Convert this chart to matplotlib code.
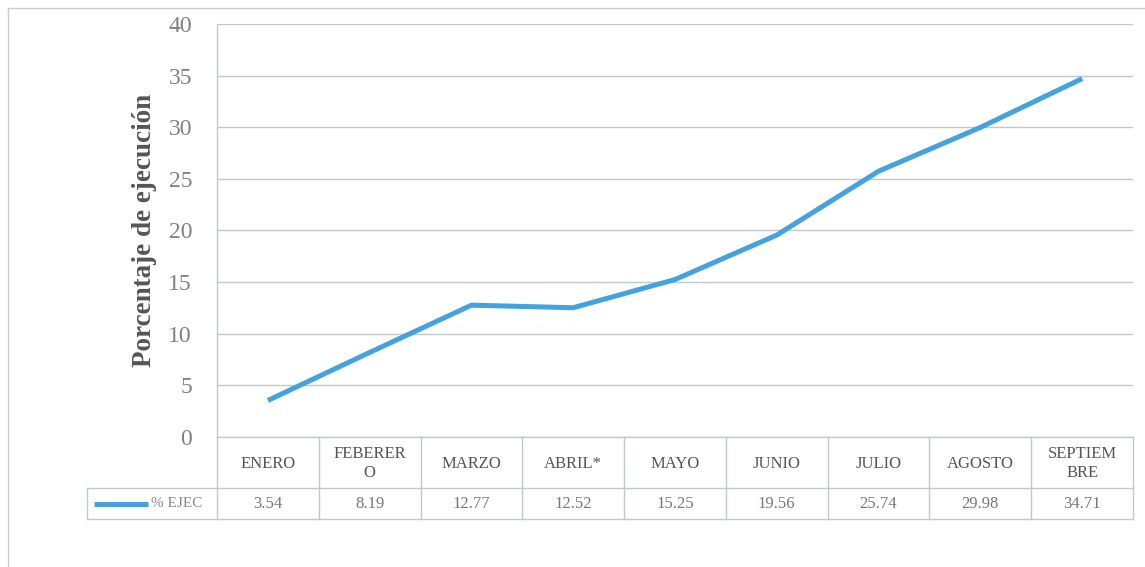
import matplotlib
matplotlib.use("Agg")
import matplotlib.pyplot as plt
from matplotlib.lines import Line2D
from matplotlib.transforms import blended_transform_factory

months = ["ENERO", "FEBERER\nO", "MARZO", "ABRIL*", "MAYO", "JUNIO", "JULIO", "AGOSTO", "SEPTIEM\nBRE"]
values = [3.54, 8.19, 12.77, 12.52, 15.25, 19.56, 25.74, 29.98, 34.71]
value_labels = ["3.54", "8.19", "12.77", "12.52", "15.25", "19.56", "25.74", "29.98", "34.71"]
series_name = "% EJEC"
y_ticks = [0, 5, 10, 15, 20, 25, 30, 35, 40]

W, H = 1145, 567
fig = plt.figure(figsize=(W / 100, H / 100), dpi=100)
plt.rcParams['font.family'] = ['Liberation Serif', 'DejaVu Serif']

grid_c = "#bfcaca"
line_c = "#45a2e0"

x0p, x1p, ytp, ybp = 217, 1133, 24, 437
ax = fig.add_axes([x0p / W, 1 - ybp / H, (x1p - x0p) / W, (ybp - ytp) / H])
n = len(months)
xs = list(range(n))
ax.set_xlim(-0.5, n - 0.5)
ax.set_ylim(0, 40)
ax.plot(xs, values, color=line_c, lw=3.6, solid_capstyle='butt', zorder=3)
ax.set_yticks(y_ticks)
ax.set_yticklabels([str(t) for t in y_ticks], fontsize=17, color="#808080")
ax.tick_params(axis='y', length=0, pad=18)
ax.set_xticks([])
for t in y_ticks:
    ax.axhline(t, color=grid_c, lw=1.0, zorder=1)
for s in ["top", "right", "bottom"]:
    ax.spines[s].set_visible(False)
ax.spines["left"].set_color(grid_c)
ax.spines["left"].set_linewidth(1.0)
ax.set_ylabel("Porcentaje de ejecución", fontsize=19.5, fontweight='bold', color="#555555", labelpad=8)

# table drawn below the axes
ph = ybp - ytp
colw = (x1p - x0p) / n
def xd(px):
    return -0.5 + (px - x0p) / colw
def yf(py):
    return (ybp - py) / ph
tr = blended_transform_factory(ax.transData, ax.transAxes)
row1_bot, row2_bot = 488, 519
leg_left = 87
kw = dict(transform=tr, color=grid_c, lw=1.0, clip_on=False)
ax.add_line(Line2D([xd(x0p), xd(x1p)], [yf(ybp), yf(ybp)], **kw))
ax.add_line(Line2D([xd(leg_left), xd(x1p)], [yf(row1_bot), yf(row1_bot)], **kw))
ax.add_line(Line2D([xd(leg_left), xd(x1p)], [yf(row2_bot), yf(row2_bot)], **kw))
for i in range(n + 1):
    ax.add_line(Line2D([i - 0.5, i - 0.5], [yf(ybp), yf(row2_bot)], **kw))
ax.add_line(Line2D([xd(leg_left), xd(leg_left)], [yf(row1_bot), yf(row2_bot)], **kw))

for i, (m, v) in enumerate(zip(months, value_labels)):
    ax.text(i, yf((ybp + row1_bot) / 2 + 1), m, transform=tr, ha='center', va='center',
            fontsize=12, color="#555555", linespacing=1.25)
    ax.text(i, yf((row1_bot + row2_bot) / 2), v, transform=tr, ha='center', va='center',
            fontsize=12, color="#777777")

ly = yf((row1_bot + row2_bot) / 2)
ax.add_line(Line2D([xd(94), xd(148)], [ly, ly], transform=tr, color=line_c, lw=3.6,
                   clip_on=False, solid_capstyle='butt'))
ax.text(xd(151), ly, series_name, transform=tr, ha='left', va='center', fontsize=11,
        color="#888888")

fig.add_artist(Line2D([8 / W, 1.0], [1 - 8 / H, 1 - 8 / H], transform=fig.transFigure,
                      color="#c8cccc", lw=1.0))
fig.add_artist(Line2D([8 / W, 8 / W], [1 - 8 / H, 0.0], transform=fig.transFigure,
                      color="#c8cccc", lw=1.0))

fig.savefig("out.png", dpi=100)
